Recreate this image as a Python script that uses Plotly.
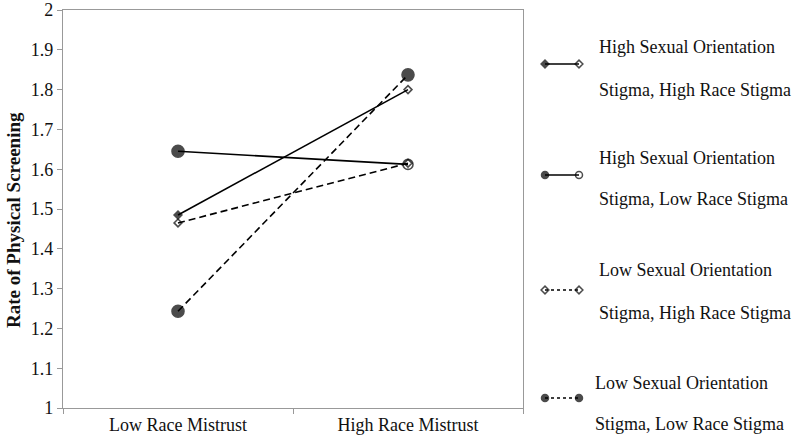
import plotly.graph_objects as go

categories = ["Low Race Mistrust", "High Race Mistrust"]
series_line1 = ["High Sexual Orientation", "High Sexual Orientation",
                "Low Sexual Orientation", "Low Sexual Orientation"]
series_line2 = ["Stigma, High Race Stigma", "Stigma, Low Race Stigma",
                "Stigma, High Race Stigma", "Stigma, Low Race Stigma"]
hso_hrs = [1.485, 1.80]
hso_lrs = [1.645, 1.612]
lso_hrs = [1.465, 1.615]
lso_lrs = [1.243, 1.837]
y_ticks = [1, 1.1, 1.2, 1.3, 1.4, 1.5, 1.6, 1.7, 1.8, 1.9, 2]
y_ticktext = ["1", "1.1", "1.2", "1.3", "1.4", "1.5", "1.6", "1.7", "1.8", "1.9", "2"]
y_title = "Rate of Physical Screening"

FONT = "Liberation Serif"
TXT = "#111111"
W, H = 800, 441
PL, PR, PT, PB = 63, 523, 10, 408   # plot frame in pixels

styles = [
    dict(dash="solid", symbol=["diamond", "diamond-open"], size=[6, 6]),
    dict(dash="solid", symbol=["circle", "circle-open"], size=[12, 10]),
    dict(dash="7px,4px", symbol=["diamond-open", "diamond-open"], size=[6, 6]),
    dict(dash="7px,4px", symbol=["circle", "circle"], size=[12, 12]),
]
all_vals = [hso_hrs, hso_lrs, lso_hrs, lso_lrs]

fig = go.Figure()
for vals, st, n1, n2 in zip(all_vals, styles, series_line1, series_line2):
    fig.add_trace(go.Scatter(
        x=categories, y=vals, mode="lines+markers",
        name=n1 + " " + n2,
        line=dict(color="black", width=1.6, dash=st["dash"]),
        marker=dict(symbol=st["symbol"], size=st["size"], color="black",
                    line=dict(color="black", width=1.6)),
        showlegend=False, xaxis="x", yaxis="y",
    ))

# custom legend on a full-page pixel helper subplot
leg_marker_y = [64, 175, 290, 398]
leg_line1_y = [47, 158, 270, 383]
leg_line2_y = [90, 199, 313, 424]
leg_text_x = [598, 598, 598, 594]
leg_x0, leg_x1 = 545, 579
for i, st in enumerate(styles):
    fig.add_trace(go.Scatter(
        x=[leg_x0, leg_x1], y=[leg_marker_y[i]] * 2, mode="lines+markers",
        line=dict(color="black", width=1.3, dash="solid" if st["dash"] == "solid" else "3px,3px"),
        marker=dict(symbol=st["symbol"], size=[6, 6] if "diamond" in st["symbol"][0] else [7, 7],
                    color="black", line=dict(color="black", width=1.5)),
        showlegend=False, xaxis="x2", yaxis="y2", hoverinfo="skip",
    ))

annotations = []
for i in range(4):
    for txt, yy in ((series_line1[i], leg_line1_y[i]), (series_line2[i], leg_line2_y[i])):
        annotations.append(dict(
            x=leg_text_x[i], y=yy, xref="x2", yref="y2", text=txt, showarrow=False,
            xanchor="left", yanchor="middle", borderpad=0,
            font=dict(family=FONT, size=18, color=TXT),
        ))
annotations.append(dict(
    x=13, y=220, xref="x2", yref="y2", text="<b>" + y_title + "</b>", showarrow=False,
    textangle=-90, xanchor="center", yanchor="middle", borderpad=0,
    font=dict(family=FONT, size=19, color=TXT),
))

fig.update_layout(
    width=W, height=H,
    margin=dict(l=0, r=0, t=0, b=0),
    paper_bgcolor="white", plot_bgcolor="rgba(0,0,0,0)",
    font=dict(family=FONT, size=18, color=TXT),
    xaxis=dict(
        domain=[PL / W, PR / W], type="category", tickson="boundaries",
        range=[-0.5, 1.5], showline=True, linecolor="#999999", linewidth=1.3,
        mirror=True, ticks="outside", tickcolor="#999999", ticklen=5,
        showgrid=False, zeroline=False, automargin=False,
        tickfont=dict(family=FONT, size=18, color=TXT),
    ),
    yaxis=dict(
        domain=[(H - PB) / H, (H - PT) / H],
        range=[1, 2], tickvals=y_ticks, ticktext=y_ticktext,
        showline=True, linecolor="#999999", linewidth=1.3, mirror=True,
        ticks="outside", tickcolor="#999999", ticklen=5,
        showgrid=False, zeroline=False, automargin=False,
        tickfont=dict(family=FONT, size=18, color=TXT),
    ),
    xaxis2=dict(domain=[0, 1], range=[0, W], visible=False, fixedrange=True),
    yaxis2=dict(domain=[0, 1], range=[H, 0], visible=False, anchor="x2", fixedrange=True),
    annotations=annotations,
)

fig.write_html(
    "out.html",
    config={"displayModeBar": False},
    post_script="document.body.style.margin='0';document.body.style.overflow='hidden';",
)
